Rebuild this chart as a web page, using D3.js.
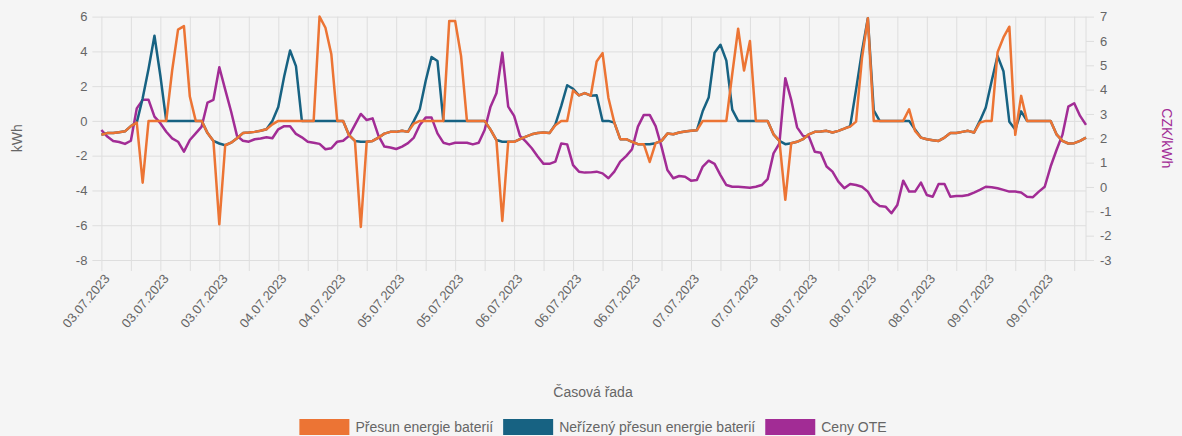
<!DOCTYPE html>
<html>
<head>
<meta charset="utf-8">
<script src="https://cdn.jsdelivr.net/npm/d3@7"></script>
<style>
    html, body { margin: 0; padding: 0; background: #f5f5f5; }
    svg { display: block; font-family: "Liberation Sans", Arial, sans-serif; }
    .grid line { stroke: #dedede; stroke-width: 1; }
    .grid path { display: none; }
    .axis path { display: none; }
    .axis line { stroke: #dedede; }
    .axis text { fill: #666; font-size: 13px; }
</style>
</head>
<body>
<div id="chart"></div>
<script>
// Hourly values, 03.07.2023 - 09.07.2023 (168 points)
const dateLabels = [
    '03.07.2023', '03.07.2023', '03.07.2023', '04.07.2023', '04.07.2023',
    '05.07.2023', '05.07.2023', '06.07.2023', '06.07.2023', '06.07.2023',
    '07.07.2023', '07.07.2023', '08.07.2023', '08.07.2023', '08.07.2023',
    '09.07.2023', '09.07.2023'
];

// Přesun energie baterií (kWh)
const presun = [
    -0.8, -0.7, -0.7, -0.65, -0.6, -0.3, -0.1, -3.55, 0, 0,
    0, 0, 2.9, 5.25, 5.45, 1.4, 0, 0, -0.7, -1.15,
    -5.95, -1.4, -1.25, -1.0, -0.7, -0.67, -0.63, -0.57, -0.48, -0.2,
    0, 0, 0, 0, 0, 0, 0, 6.0, 5.36, 3.83,
    0, 0, -0.82, -1.15, -6.1, -1.2, -1.15, -0.96, -0.73, -0.63,
    -0.63, -0.57, -0.63, -0.15, 0, 0, 0, 0, 0, 5.75,
    5.75, 3.74, 0, 0, 0, 0, -0.5, -1.1, -5.75, -1.2,
    -1.2, -1.05, -0.9, -0.77, -0.7, -0.67, -0.7, -0.25, 0, 0,
    1.75, 1.47, 1.6, 1.45, 3.42, 3.9, 1.32, -0.1, -1.05, -1.05,
    -1.2, -1.34, -1.34, -2.36, -1.28, -1.15, -0.73, -0.77, -0.67, -0.61,
    -0.57, -0.54, 0, 0, 0, 0, 0, 2.7, 5.3, 2.9,
    4.6, 0, 0, 0, -0.77, -1.15, -4.54, -1.28, -1.2, -1.05,
    -0.77, -0.63, -0.61, -0.57, -0.67, -0.57, -0.44, -0.33, -0.04, 3.6,
    5.9, 0, 0, 0, 0, 0, 0, 0.67, -0.57, -0.96,
    -1.05, -1.11, -1.15, -0.96, -0.7, -0.7, -0.63, -0.57, -0.67, -0.1,
    0, 0, 3.95, 4.8, 5.42, -0.8, 1.44, 0, 0, 0,
    0, 0, -0.77, -1.15, -1.3, -1.28, -1.15, -0.96
];

// Neřízený přesun energie baterií (kWh)
const nerizeny = [
    -0.8, -0.7, -0.7, -0.65, -0.6, -0.3, -0.1, 1.3, 3.0, 4.9,
    2.6, 0, 0, 0, 0, 0, 0, 0, -0.7, -1.15,
    -1.3, -1.4, -1.25, -1.0, -0.7, -0.67, -0.63, -0.57, -0.48, 0,
    0.8, 2.55, 4.05, 3.15, 0, 0, 0, 0, 0, 0,
    0, 0, -0.82, -1.15, -1.2, -1.2, -1.15, -0.96, -0.73, -0.63,
    -0.63, -0.57, -0.63, 0, 0.67, 2.3, 3.68, 3.45, 0, 0,
    0, 0, 0, 0, 0, 0, -0.5, -1.1, -1.2, -1.2,
    -1.2, -1.05, -0.9, -0.77, -0.7, -0.67, -0.7, -0.2, 0.86, 2.05,
    1.85, 1.47, 1.6, 1.45, 1.48, 0, 0, -0.1, -1.05, -1.05,
    -1.2, -1.34, -1.34, -1.34, -1.28, -1.15, -0.73, -0.77, -0.67, -0.61,
    -0.57, -0.54, 0.57, 1.34, 3.92, 4.38, 3.47, 0.65, 0, 0,
    0, 0, 0, 0, -0.77, -1.15, -1.34, -1.28, -1.2, -1.05,
    -0.77, -0.63, -0.61, -0.57, -0.67, -0.57, -0.44, -0.3, 1.8, 4.0,
    5.9, 0.6, 0, 0, 0, 0, 0, 0, -0.5, -0.96,
    -1.05, -1.11, -1.15, -0.96, -0.7, -0.7, -0.63, -0.57, -0.67, 0,
    0.77, 2.3, 3.74, 2.86, -0.05, -0.5, 0.55, 0, 0, 0,
    0, 0, -0.77, -1.15, -1.3, -1.28, -1.15, -0.96
];

// Ceny OTE (CZK/kWh)
const cenyOTE = [
    2.34, 2.07, 1.89, 1.85, 1.77, 1.9, 3.23, 3.58, 3.58, 2.89,
    2.62, 2.27, 2.0, 1.86, 1.45, 1.93, 2.2, 2.48, 3.47, 3.58,
    4.92, 4.0, 3.1, 2.1, 1.9, 1.86, 1.96, 1.99, 2.04, 2.0,
    2.37, 2.5, 2.5, 2.18, 2.04, 1.86, 1.82, 1.77, 1.55, 1.59,
    1.86, 1.9, 2.1, 2.55, 3.0, 2.75, 2.82, 2.1, 1.66, 1.62,
    1.56, 1.66, 1.8, 2.03, 2.55, 2.85, 2.85, 2.2, 1.82, 1.75,
    1.82, 1.82, 1.82, 1.75, 1.82, 2.34, 3.3, 3.85, 5.52, 3.3,
    2.92, 2.1, 1.86, 1.59, 1.25, 0.95, 0.95, 1.04, 1.79, 1.75,
    0.9, 0.63, 0.59, 0.6, 0.63, 0.56, 0.36, 0.63, 1.04, 1.27,
    1.55, 2.48, 2.96, 2.96, 2.5, 1.66, 0.7, 0.36, 0.45, 0.42,
    0.26, 0.29, 0.84, 1.08, 0.95, 0.49, 0.08, 0.01, 0.01, -0.01,
    -0.03, 0.01, 0.08, 0.32, 1.38, 1.79, 4.47, 3.58, 2.45, 2.1,
    2.07, 1.45, 1.41, 0.84, 0.63, 0.22, -0.05, 0.12, 0.08, 0.01,
    -0.19, -0.6, -0.78, -0.81, -1.08, -0.74, 0.26, -0.19, -0.19, 0.18,
    -0.33, -0.4, 0.12, 0.12, -0.4, -0.37, -0.37, -0.33, -0.23, -0.12,
    0.01, -0.01, -0.05, -0.12, -0.19, -0.19, -0.23, -0.4, -0.42, -0.19,
    0.01, 0.84, 1.52, 2.14, 3.3, 3.44, 2.92, 2.55
];

const seriesNames = ['Přesun energie baterií', 'Neřízený přesun energie baterií', 'Ceny OTE'];
const seriesColors = ['#ec7434', '#176282', '#a22c95'];

const leftTicks = [-8, -6, -4, -2, 0, 2, 4, 6];
const rightTicks = [-3, -2, -1, 0, 1, 2, 3, 4, 5, 6, 7];

function drawChart() {
    const width = 1182;
    const height = 436;
    const margin = { top: 16.6, right: 96, bottom: 176, left: 101.4 };
    const plotW = width - margin.left - margin.right;
    const plotH = height - margin.top - margin.bottom;

    const svg = d3.select('#chart').append('svg')
        .attr('width', width)
        .attr('height', height);

    svg.append('rect')
        .attr('width', width)
        .attr('height', height)
        .attr('fill', '#f5f5f5');

    const x = d3.scaleLinear()
        .domain([0, presun.length - 1])
        .range([margin.left, width - margin.right]);
    const yL = d3.scaleLinear()
        .domain([-8, 6])
        .range([height - margin.bottom, margin.top]);
    const yR = d3.scaleLinear()
        .domain([-3, 7])
        .range([height - margin.bottom, margin.top]);

    // plain hyphen for negatives, like the original
    const numFmt = d => String(d);

    // vertical grid every 5 hours, labels every 10 hours
    const xTickVals = d3.range(0, presun.length, 5);
    svg.append('g')
        .attr('class', 'grid')
        .attr('transform', `translate(0,${height - margin.bottom})`)
        .call(d3.axisBottom(x).tickValues(xTickVals).tickSize(-plotH).tickFormat(''));

    // horizontal grid from left axis
    svg.append('g')
        .attr('class', 'grid')
        .attr('transform', `translate(${margin.left},0)`)
        .call(d3.axisLeft(yL).tickValues(leftTicks).tickSize(-plotW).tickFormat(''));

    // right border line
    svg.append('line')
        .attr('x1', width - margin.right).attr('x2', width - margin.right)
        .attr('y1', margin.top).attr('y2', height - margin.bottom)
        .attr('stroke', '#dedede');

    // x axis
    const xAxis = svg.append('g')
        .attr('class', 'axis')
        .attr('transform', `translate(0,${height - margin.bottom})`)
        .call(d3.axisBottom(x).tickValues(xTickVals).tickSize(11).tickPadding(0)
            .tickFormat(d => d % 10 === 0 ? dateLabels[d / 10] : ''));
    xAxis.selectAll('text')
        .attr('text-anchor', 'end')
        .attr('y', 0)
        .attr('dy', '0.35em')
        .attr('transform', 'translate(5,16) rotate(-50)');

    // left axis
    svg.append('g')
        .attr('class', 'axis')
        .attr('transform', `translate(${margin.left},0)`)
        .call(d3.axisLeft(yL).tickValues(leftTicks).tickSize(9).tickPadding(5).tickFormat(numFmt));

    // right axis
    svg.append('g')
        .attr('class', 'axis')
        .attr('transform', `translate(${width - margin.right},0)`)
        .call(d3.axisRight(yR).tickValues(rightTicks).tickSize(8).tickPadding(6).tickFormat(numFmt));

    // lines: first dataset on top, so draw in reverse
    const lineL = d3.line().x((d, i) => x(i)).y(d => yL(d));
    const lineR = d3.line().x((d, i) => x(i)).y(d => yR(d));
    const lines = [
        { data: cenyOTE, gen: lineR, color: seriesColors[2] },
        { data: nerizeny, gen: lineL, color: seriesColors[1] },
        { data: presun, gen: lineL, color: seriesColors[0] }
    ];
    lines.forEach(l => {
        svg.append('path')
            .attr('d', l.gen(l.data))
            .attr('fill', 'none')
            .attr('stroke', l.color)
            .attr('stroke-width', 2.5)
            .attr('stroke-linejoin', 'round');
    });

    // axis titles
    svg.append('text')
        .attr('transform', `translate(22,${margin.top + plotH / 2}) rotate(-90)`)
        .attr('text-anchor', 'middle')
        .attr('fill', '#666')
        .style('font-size', '14px')
        .text('kWh');
    svg.append('text')
        .attr('transform', `translate(1162,${margin.top + plotH / 2}) rotate(90)`)
        .attr('text-anchor', 'middle')
        .attr('fill', seriesColors[2])
        .style('font-size', '14px')
        .text('CZK/kWh');
    svg.append('text')
        .attr('x', 593)
        .attr('y', 397)
        .attr('text-anchor', 'middle')
        .attr('fill', '#666')
        .style('font-size', '14px')
        .text('Časová řada');

    // legend
    const legend = svg.append('g');
    let cx = 0;
    seriesNames.forEach((name, i) => {
        const item = legend.append('g').attr('transform', `translate(${cx},0)`);
        item.append('rect')
            .attr('width', 50).attr('height', 16)
            .attr('fill', seriesColors[i]);
        const t = item.append('text')
            .attr('x', 56).attr('y', 13)
            .attr('fill', '#666')
            .style('font-size', '14px')
            .text(name);
        cx += 56 + t.node().getComputedTextLength() + 10;
    });
    const legendW = cx - 10;
    legend.attr('transform', `translate(${593 - legendW / 2},419)`);
}

document.addEventListener('DOMContentLoaded', drawChart);
</script>
</body>
</html>
